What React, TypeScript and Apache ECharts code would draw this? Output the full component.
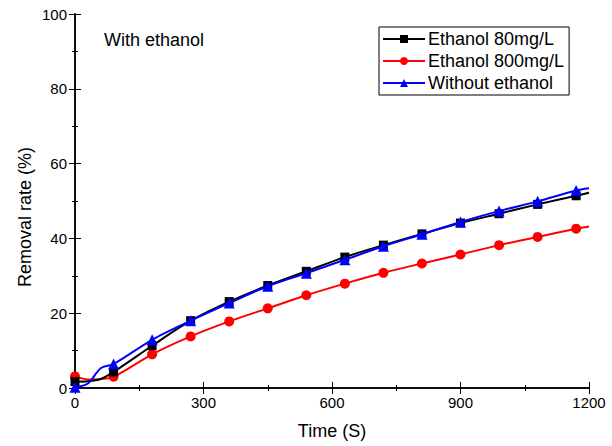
import React, { useEffect, useRef } from "react";
import * as echarts from "echarts";

const times = [0, 30, 60, 90, 180, 270, 360, 450, 540, 630, 720, 810, 900, 990, 1080, 1170, 1200];
const markerTimes = [0, 90, 180, 270, 360, 450, 540, 630, 720, 810, 900, 990, 1080, 1170];
const ethanol80 = [1.7, 1.8, 2.4, 4.3, 11.3, 18.0, 23.1, 27.4, 31.2, 35.0, 38.2, 41.2, 44.1, 46.6, 49.1, 51.4, 52.2];
const ethanol800 = [3.1, 2.3, 2.4, 3.0, 9.0, 13.8, 17.8, 21.3, 24.8, 27.9, 30.8, 33.3, 35.7, 38.2, 40.4, 42.6, 43.2];
const withoutEthanol = [0.2, 1.2, 5.3, 6.4, 12.9, 18.0, 22.7, 27.2, 30.7, 34.3, 37.9, 41.1, 44.4, 47.3, 49.9, 52.8, 53.4];
const xTicks = [0, 300, 600, 900, 1200];
const yTicks = [0, 20, 40, 60, 80, 100];

const FONT = "Liberation Sans, Arial, sans-serif";

function build(vals: number[]) {
  return times.map((t, i) => {
    const item: any = { value: [t, vals[i]] };
    if (!markerTimes.includes(t)) item.symbol = "none";
    return item;
  });
}

export default function App() {
  const ref = useRef<HTMLDivElement>(null);
  useEffect(() => {
    if (!ref.current) return;
    const chart = echarts.init(ref.current, undefined, { renderer: "svg" });
    const axisCommon = {
      axisLine: { show: true, lineStyle: { color: "#000", width: 1.5 } },
      axisTick: { show: true, inside: true, length: 6, lineStyle: { color: "#000", width: 1 } },
      minorTick: { show: true, splitNumber: 2, length: 3, lineStyle: { color: "#000", width: 1 } },
      splitLine: { show: false },
    };
    chart.setOption({
      animation: false,
      backgroundColor: "#fff",
      grid: { left: 75, right: 23, top: 14, bottom: 58 },
      xAxis: [
        {
          type: "value",
          min: xTicks[0],
          max: xTicks[xTicks.length - 1],
          interval: 300,
          name: "Time (S)",
          nameLocation: "middle",
          nameGap: 34,
          nameTextStyle: { fontFamily: FONT, fontSize: 18, color: "#000" },
          axisLabel: { fontFamily: FONT, fontSize: 15, color: "#000", margin: 7, formatter: (v: number) => String(v) },
          ...axisCommon,
        },
        {
          type: "value",
          position: "top",
          min: xTicks[0],
          max: xTicks[xTicks.length - 1],
          interval: 300,
          axisLabel: { show: false },
          ...axisCommon,
        },
      ],
      yAxis: [
        {
          type: "value",
          min: yTicks[0],
          max: yTicks[yTicks.length - 1],
          interval: 20,
          axisLabel: { fontFamily: FONT, fontSize: 15, color: "#000", margin: 8 },
          ...axisCommon,
        },
        {
          type: "value",
          position: "right",
          min: yTicks[0],
          max: yTicks[yTicks.length - 1],
          interval: 20,
          axisLabel: { show: false },
          ...axisCommon,
        },
      ],
      legend: {
        orient: "vertical",
        left: 379,
        top: 27,
        padding: [3, 5, 3, 3],
        itemGap: 4,
        itemWidth: 42,
        itemHeight: 10,
        borderColor: "#000",
        borderWidth: 1,
        textStyle: { fontFamily: FONT, fontSize: 18, color: "#000", padding: [0, 0, 0, -2] },
        data: ["Ethanol 80mg/L", "Ethanol 800mg/L", "Without ethanol"],
      },
      graphic: [
        {
          type: "text",
          left: 104,
          top: 31,
          style: { text: "With ethanol", font: `18px ${FONT}`, fill: "#000" },
        },
        {
          type: "text",
          x: 25,
          y: 217,
          rotation: Math.PI / 2,
          style: {
            text: "Removal rate (%)",
            font: `18px ${FONT}`,
            fill: "#000",
            align: "center",
            verticalAlign: "middle",
          },
        },
      ],
      series: [
        {
          name: "Ethanol 80mg/L",
          type: "line",
          smooth: 0.3,
          data: build(ethanol80),
          symbol: "rect",
          symbolSize: 9,
          lineStyle: { color: "#000", width: 2 },
          itemStyle: { color: "#000" },
          z: 3,
        },
        {
          name: "Ethanol 800mg/L",
          type: "line",
          smooth: 0.3,
          data: build(ethanol800),
          symbol: "circle",
          symbolSize: 10,
          lineStyle: { color: "#ff0000", width: 2 },
          itemStyle: { color: "#ff0000" },
          z: 2,
        },
        {
          name: "Without ethanol",
          type: "line",
          smooth: 0.3,
          data: build(withoutEthanol),
          symbol: "triangle",
          symbolSize: 11,
          lineStyle: { color: "#0000ff", width: 2 },
          itemStyle: { color: "#0000ff" },
          z: 4,
        },
      ],
    });
    return () => chart.dispose();
  }, []);
  return <div ref={ref} style={{ width: 612, height: 446, position: "absolute", left: 0, top: 0 }} />;
}
